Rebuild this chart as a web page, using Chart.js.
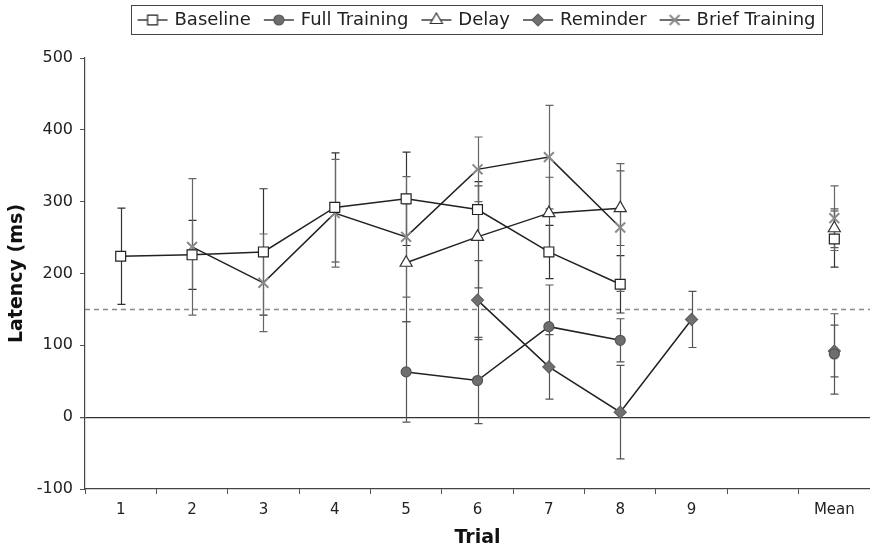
<!DOCTYPE html>
<html>
<head>
<meta charset="utf-8">
<script src="https://cdn.jsdelivr.net/npm/chart.js@4.4.0/dist/chart.umd.min.js"></script>
<style>
  html, body { margin: 0; padding: 0; background: #fff; }
  #wrap { width: 870px; height: 549px; }
</style>
</head>
<body>
<div id="wrap"><canvas id="c" width="870" height="549"></canvas></div>
<script>
// latency per trial; last slot is the mean
var trials = ['1', '2', '3', '4', '5', '6', '7', '8', '9', '', 'Mean'];
var baseline =         [224, 226, 230, 292, 304, 289, 230, 185, null, null, 248];
var baselineErr =      [67, 48, 88, 76, 65, 39, 37, 40, null, null, 39];
var fullTraining =     [null, null, null, null, 63, 51, 126, 107, null, null, 88];
var fullTrainingErr =  [null, null, null, null, 70, 60, 58, 30, null, null, 56];
var delay =            [null, null, null, null, 215, 251, 284, 291, null, null, 263];
var delayErr =         [null, null, null, null, 82, 71, 50, 52, null, null, 27];
var reminder =         [null, null, null, null, null, 163, 70, 7, 136, null, 92];
var reminderErr =      [null, null, null, null, null, 55, 45, 65, 39, null, 36];
var briefTraining =    [null, 237, 187, 284, 251, 345, 362, 264, null, null, 277];
var briefTrainingErr = [null, 95, 68, 75, 84, 45, 72, 89, null, null, 45];
var criterion = 150;
var yMin = -100, yMax = 500, yStep = 100;

var FONT = 'DejaVu Sans';
var LEGEND_PAD = 15, LEGEND_FONT = 18;

function series(label, data, err, shape, radius, fill, stroke, errColor) {
  return {
    label: label, data: data, errors: err, errColor: errColor,
    borderColor: '#222', borderWidth: 1.5,
    pointStyle: shape, pointRadius: radius, pointHoverRadius: radius,
    pointBackgroundColor: fill, pointBorderColor: stroke,
    pointBorderWidth: shape === 'crossRot' ? 2 : 1.2,
    spanGaps: false, tension: 0, fill: false
  };
}

var datasets = [
  series('Baseline', baseline, baselineErr, 'rect', 7, '#fff', '#222', '#333'),
  series('Full Training', fullTraining, fullTrainingErr, 'circle', 5, '#6e6e6e', '#555', '#555'),
  series('Delay', delay, delayErr, 'triangle', 7, '#fff', '#333', '#555'),
  series('Reminder', reminder, reminderErr, 'rectRot', 6, '#707070', '#606060', '#555'),
  series('Brief Training', briefTraining, briefTrainingErr, 'crossRot', 7, '#888', '#8a8a8a', '#666')
];

function legendIcon(ds) {
  var c = document.createElement('canvas');
  c.width = 32; c.height = 16;
  var g = c.getContext('2d');
  g.strokeStyle = '#222'; g.lineWidth = 1.3;
  g.beginPath(); g.moveTo(1, 8); g.lineTo(31, 8); g.stroke();
  g.fillStyle = ds.pointBackgroundColor;
  g.strokeStyle = ds.pointBorderColor;
  g.lineWidth = ds.pointBorderWidth;
  Chart.helpers.drawPoint(g, { pointStyle: ds.pointStyle, radius: ds.pointRadius, rotation: 0, borderWidth: ds.pointBorderWidth }, 16, 8);
  return c;
}

// error bars + dashed criterion line, drawn under the markers
var extras = {
  id: 'extras',
  beforeDatasetsDraw: function(chart) {
    var ctx = chart.ctx, y = chart.scales.y, area = chart.chartArea;
    ctx.save();
    var yc = Math.round(y.getPixelForValue(criterion)) + 0.5;
    ctx.strokeStyle = '#888'; ctx.lineWidth = 1.3; ctx.setLineDash([5, 4]);
    ctx.beginPath(); ctx.moveTo(area.left, yc); ctx.lineTo(area.right, yc); ctx.stroke();
    ctx.setLineDash([]);
    chart.data.datasets.forEach(function(ds, i) {
      var meta = chart.getDatasetMeta(i);
      ctx.strokeStyle = ds.errColor; ctx.lineWidth = 1.2;
      ds.data.forEach(function(v, j) {
        var e = ds.errors[j];
        if (v === null || e === null) return;
        var x = Math.round(meta.data[j].x) + 0.5;
        var t = y.getPixelForValue(v + e), b = y.getPixelForValue(v - e);
        ctx.beginPath();
        ctx.moveTo(x, t); ctx.lineTo(x, b);
        ctx.moveTo(x - 4, t); ctx.lineTo(x + 4, t);
        ctx.moveTo(x - 4, b); ctx.lineTo(x + 4, b);
        ctx.stroke();
      });
    });
    ctx.restore();
  },
  afterLayout: function(chart) {
    // pull the legend up to the top edge, chart area stays put
    var lg = chart.legend;
    if (!lg) return;
    var h = lg.height;
    lg.top = 20 - LEGEND_PAD - LEGEND_FONT / 2;
    lg.bottom = lg.top + h;
  },
  afterDraw: function(chart) {
    var lg = chart.legend, hb = lg.legendHitBoxes;
    if (!hb || !hb.length) return;
    var l = Infinity, r = -Infinity;
    hb.forEach(function(b) { l = Math.min(l, b.left); r = Math.max(r, b.left + b.width); });
    var ctx = chart.ctx;
    ctx.save();
    ctx.strokeStyle = '#444'; ctx.lineWidth = 1;
    ctx.strokeRect(Math.round(l - 9) + 0.5, 5.5, Math.round(r - l + 15), 29);
    ctx.restore();
  }
};

var chart = new Chart(document.getElementById('c'), {
  type: 'line',
  data: { labels: trials, datasets: datasets },
  plugins: [extras],
  options: {
    responsive: false,
    animation: false,
    layout: { autoPadding: false, padding: { top: 20, right: 0, bottom: 0, left: 0 } },
    plugins: {
      tooltip: { enabled: false },
      legend: {
        position: 'top', fullSize: false,
        labels: {
          usePointStyle: true, pointStyleWidth: 26, boxHeight: 16, padding: LEGEND_PAD,
          color: '#222', font: { family: FONT, size: LEGEND_FONT },
          generateLabels: function(c) {
            return c.data.datasets.map(function(ds, i) {
              return { text: ds.label, pointStyle: legendIcon(ds), datasetIndex: i, hidden: false, lineWidth: 0, fontColor: '#222' };
            });
          }
        }
      }
    },
    scales: {
      x: {
        type: 'category', offset: true,
        grid: { offset: true, drawOnChartArea: false, tickLength: 5, color: '#555' },
        border: { color: '#444', width: 1.2 },
        ticks: { color: '#222', padding: 7, maxRotation: 0, autoSkip: false, font: { family: FONT, size: 15 } },
        title: { display: true, text: 'Trial', color: '#111', padding: { top: 0, bottom: 0 }, font: { family: FONT, size: 19, weight: 'bold' } },
        afterFit: function(s) { s.height = 60; }
      },
      y: {
        min: yMin, max: yMax,
        grid: {
          drawOnChartArea: true, tickLength: 5, tickColor: '#555',
          color: function(c) { return c.tick && c.tick.value === 0 ? '#333' : 'rgba(0,0,0,0)'; },
          lineWidth: function(c) { return c.tick && c.tick.value === 0 ? 1.3 : 1; }
        },
        border: { color: '#444', width: 1.2 },
        ticks: { stepSize: yStep, color: '#222', padding: 7, font: { family: FONT, size: 16 } },
        title: { display: true, text: 'Latency (ms)', color: '#111', padding: { top: 6, bottom: 0 }, font: { family: FONT, size: 19, weight: 'bold' } },
        afterFit: function(s) { s.width = 85; }
      }
    }
  }
});

var dTop = 58 - chart.chartArea.top;
if (dTop) {
  chart.options.layout.padding.top += dTop;
  chart.update('none');
}
</script>
</body>
</html>
